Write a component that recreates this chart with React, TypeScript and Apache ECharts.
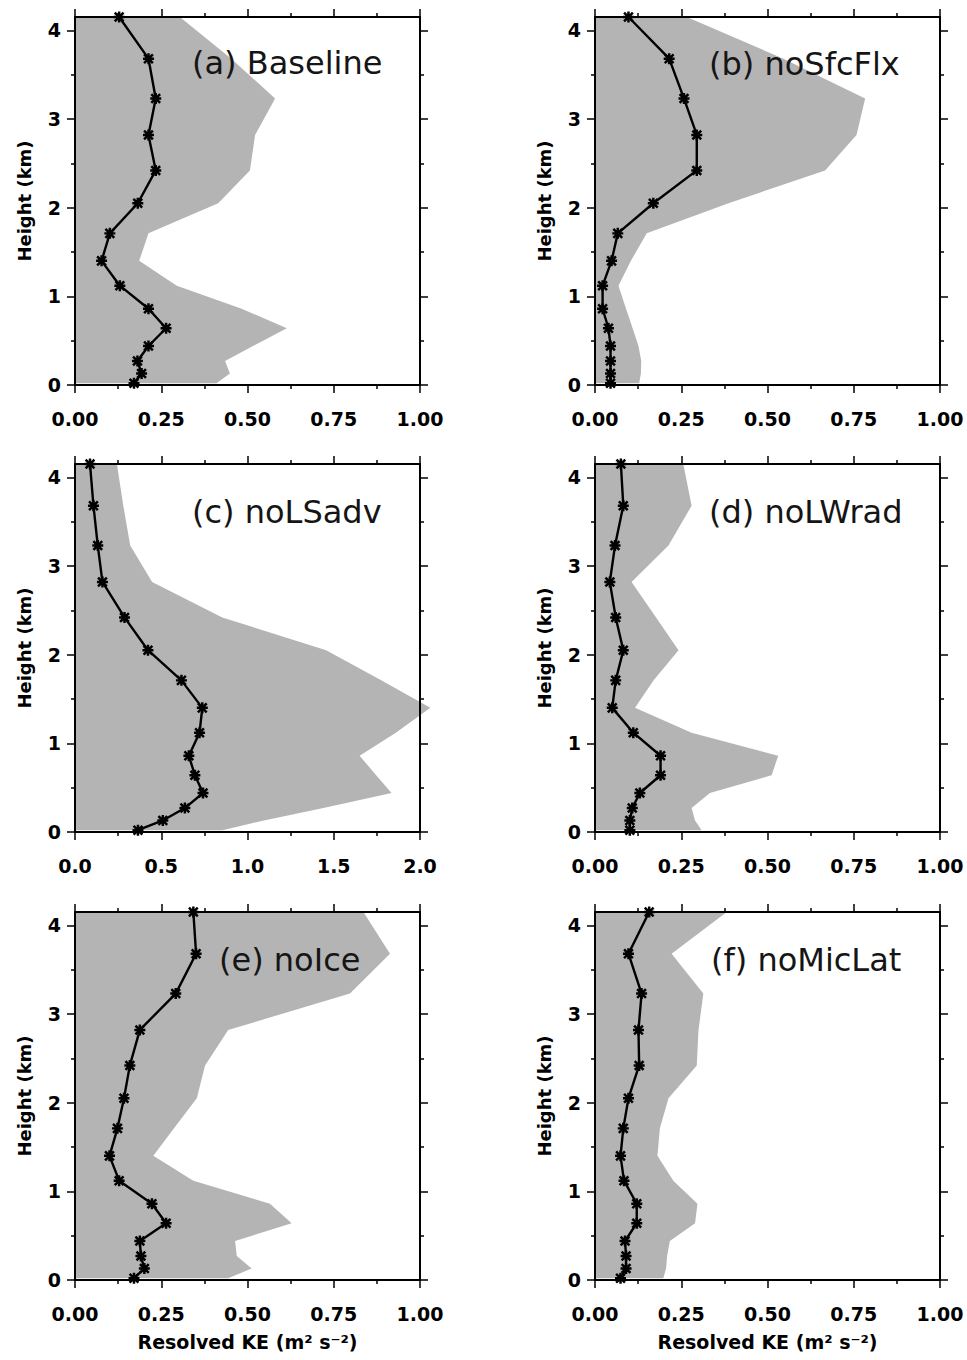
import React, { useEffect, useRef } from "react";
import * as echarts from "echarts";

// ---- data ----
const heights = [0.02, 0.13, 0.27, 0.44, 0.64, 0.86, 1.12, 1.4, 1.71, 2.05, 2.42, 2.82, 3.23, 3.68, 4.15];

const keBaseline = [0.171, 0.193, 0.181, 0.213, 0.264, 0.213, 0.13, 0.077, 0.101, 0.182, 0.234, 0.213, 0.234, 0.213, 0.128];
const maxBaseline = [0.41, 0.449, 0.435, 0.516, 0.614, 0.483, 0.295, 0.186, 0.213, 0.415, 0.507, 0.522, 0.58, 0.453, 0.304];

const keNoSfcFlx = [0.045, 0.045, 0.045, 0.045, 0.039, 0.022, 0.022, 0.048, 0.066, 0.169, 0.295, 0.295, 0.258, 0.215, 0.097];
const maxNoSfcFlx = [0.128, 0.133, 0.134, 0.126, 0.109, 0.09, 0.068, 0.104, 0.15, 0.387, 0.667, 0.758, 0.783, 0.546, 0.266];

const keNoLSadv = [0.365, 0.509, 0.637, 0.742, 0.695, 0.66, 0.722, 0.738, 0.617, 0.423, 0.287, 0.159, 0.132, 0.107, 0.087];
const maxNoLSadv = [0.855, 1.095, 1.44, 1.835, 1.746, 1.65, 1.86, 2.06, 1.775, 1.456, 0.854, 0.447, 0.32, 0.28, 0.243];

const keNoLWrad = [0.101, 0.101, 0.108, 0.13, 0.19, 0.19, 0.111, 0.05, 0.06, 0.082, 0.06, 0.043, 0.058, 0.082, 0.075];
const maxNoLWrad = [0.309, 0.29, 0.28, 0.333, 0.512, 0.531, 0.28, 0.116, 0.17, 0.242, 0.177, 0.106, 0.213, 0.28, 0.256];

const keNoIce = [0.171, 0.201, 0.191, 0.188, 0.264, 0.223, 0.128, 0.1, 0.123, 0.142, 0.159, 0.188, 0.292, 0.351, 0.343];
const maxNoIce = [0.444, 0.512, 0.469, 0.464, 0.628, 0.565, 0.343, 0.227, 0.287, 0.353, 0.377, 0.444, 0.797, 0.913, 0.836];

const keNoMicLat = [0.074, 0.09, 0.09, 0.087, 0.121, 0.121, 0.084, 0.074, 0.082, 0.097, 0.128, 0.126, 0.135, 0.097, 0.157];
const maxNoMicLat = [0.198, 0.206, 0.209, 0.217, 0.29, 0.297, 0.227, 0.181, 0.188, 0.213, 0.295, 0.3, 0.314, 0.222, 0.382];

const panelTitles = ["(a) Baseline", "(b) noSfcFlx", "(c) noLSadv", "(d) noLWrad", "(e) noIce", "(f) noMicLat"];

const xTicksStd = [0, 0.25, 0.5, 0.75, 1.0];
const xTickLabelsStd = ["0.00", "0.25", "0.50", "0.75", "1.00"];
const xMinorStd = [0.125, 0.375, 0.625, 0.875];
const xTicksWide = [0, 0.5, 1.0, 1.5, 2.0];
const xTickLabelsWide = ["0.0", "0.5", "1.0", "1.5", "2.0"];
const xMinorWide = [0.25, 0.75, 1.25, 1.75];
const yTicks = [0, 1, 2, 3, 4];
const yTickLabels = ["0", "1", "2", "3", "4"];
const yMinor = [0.5, 1.5, 2.5, 3.5];
const yMax = 4.15;

const xAxisName = "Resolved KE (m² s⁻²)";
const yAxisName = "Height (km)";

// ---- layout / style ----
const panels = [
  { title: panelTitles[0], ke: keBaseline, mx: maxBaseline, wide: false },
  { title: panelTitles[1], ke: keNoSfcFlx, mx: maxNoSfcFlx, wide: false },
  { title: panelTitles[2], ke: keNoLSadv, mx: maxNoLSadv, wide: true },
  { title: panelTitles[3], ke: keNoLWrad, mx: maxNoLWrad, wide: false },
  { title: panelTitles[4], ke: keNoIce, mx: maxNoIce, wide: false },
  { title: panelTitles[5], ke: keNoMicLat, mx: maxNoMicLat, wide: false },
];
const colLeft = [75, 595];
const rowTop = [17, 464, 912];
const gridW = 345;
const gridH = 368;
const titlePos = [
  [192, 63],
  [709, 64],
  [192, 512],
  [709, 512],
  [219, 960],
  [711, 960],
];

const asterisk =
  "path://M0 7.75H20V12.25H0Z M7.75 0H12.25V20H7.75Z M3.6 0.4L19.6 16.4L16.4 19.6L0.4 3.6Z M19.6 3.6L3.6 19.6L0.4 16.4L16.4 0.4Z";

const FONT = "DejaVu Sans";
const BLACK = "#000";
const SHADE = "#b4b4b4";

function buildOption() {
  const grid: any[] = [];
  const xAxis: any[] = [];
  const yAxis: any[] = [];
  const series: any[] = [];
  const graphic: any[] = [];

  panels.forEach((p, g) => {
    const col = g % 2;
    const row = Math.floor(g / 2);
    grid.push({ left: colLeft[col], top: rowTop[row], width: gridW, height: gridH, show: false });

    const xMaj = p.wide ? xTicksWide : xTicksStd;
    const xLab = p.wide ? xTickLabelsWide : xTickLabelsStd;
    const xMin = p.wide ? xMinorWide : xMinorStd;
    const xmax = xMaj[xMaj.length - 1];

    const xc = { type: "value", gridIndex: g, min: 0, max: xmax, splitLine: { show: false }, z: 3, silent: true };
    const baseX = xAxis.length;
    const tickStyle = { color: BLACK, width: 1.5 };
    xAxis.push({
      ...xc,
      position: "bottom",
      axisLine: { show: true, onZero: false, lineStyle: { color: BLACK, width: 2 } },
      axisTick: { show: true, inside: false, customValues: xMaj, length: 8, lineStyle: tickStyle },
      axisLabel: {
        show: true,
        customValues: xMaj,
        margin: 24,
        fontFamily: FONT,
        fontWeight: "bold",
        fontSize: 19,
        color: BLACK,
        formatter: (v: number) => {
          const i = xMaj.findIndex((t) => Math.abs(t - v) < 1e-9);
          return i >= 0 ? xLab[i] : "";
        },
      },
      name: row === 2 ? xAxisName : "",
      nameLocation: "middle",
      nameGap: 52,
      nameTextStyle: { fontFamily: FONT, fontWeight: "bold", fontSize: 19, color: BLACK },
    });
    xAxis.push({
      ...xc,
      position: "bottom",
      axisLine: { show: false, onZero: false },
      axisTick: { show: true, inside: false, customValues: xMin, length: 4, lineStyle: tickStyle },
      axisLabel: { show: false },
    });
    xAxis.push({
      ...xc,
      position: "top",
      axisLine: { show: true, onZero: false, lineStyle: { color: BLACK, width: 2 } },
      axisTick: { show: true, inside: false, customValues: xMaj, length: 8, lineStyle: tickStyle },
      axisLabel: { show: false },
    });
    xAxis.push({
      ...xc,
      position: "top",
      axisLine: { show: false, onZero: false },
      axisTick: { show: true, inside: false, customValues: xMin, length: 4, lineStyle: tickStyle },
      axisLabel: { show: false },
    });

    const yc = { type: "value", gridIndex: g, min: 0, max: yMax, splitLine: { show: false }, z: 3, silent: true };
    const baseY = yAxis.length;
    yAxis.push({
      ...yc,
      position: "left",
      axisLine: { show: true, onZero: false, lineStyle: { color: BLACK, width: 2 } },
      axisTick: { show: true, inside: false, customValues: yTicks, length: 8, lineStyle: tickStyle },
      axisLabel: {
        show: true,
        customValues: yTicks,
        margin: 14,
        fontFamily: FONT,
        fontWeight: "bold",
        fontSize: 19,
        color: BLACK,
        formatter: (v: number) => {
          const i = yTicks.findIndex((t) => Math.abs(t - v) < 1e-9);
          return i >= 0 ? yTickLabels[i] : "";
        },
      },
      name: yAxisName,
      nameLocation: "middle",
      nameGap: 42,
      nameRotate: 90,
      nameTextStyle: { fontFamily: FONT, fontWeight: "bold", fontSize: 18, color: BLACK },
    });
    yAxis.push({
      ...yc,
      position: "left",
      axisLine: { show: false, onZero: false },
      axisTick: { show: true, inside: false, customValues: yMinor, length: 4, lineStyle: tickStyle },
      axisLabel: { show: false },
    });
    yAxis.push({
      ...yc,
      position: "right",
      axisLine: { show: true, onZero: false, lineStyle: { color: BLACK, width: 2 } },
      axisTick: { show: true, inside: false, customValues: yTicks, length: 8, lineStyle: tickStyle },
      axisLabel: { show: false },
    });
    yAxis.push({
      ...yc,
      position: "right",
      axisLine: { show: false, onZero: false },
      axisTick: { show: true, inside: false, customValues: yMinor, length: 4, lineStyle: tickStyle },
      axisLabel: { show: false },
    });

    const mxVals = p.mx;
    series.push({
      type: "custom",
      xAxisIndex: baseX,
      yAxisIndex: baseY,
      data: [[0, 0]],
      clip: false,
      silent: true,
      z: 1,
      renderItem: (_params: any, api: any) => {
        const pts: number[][] = [api.coord([0, heights[0]])];
        for (let i = 0; i < heights.length; i++) pts.push(api.coord([mxVals[i], heights[i]]));
        pts.push(api.coord([0, heights[heights.length - 1]]));
        return { type: "polygon", shape: { points: pts }, style: { fill: SHADE } };
      },
    });
    series.push({
      type: "line",
      xAxisIndex: baseX,
      yAxisIndex: baseY,
      data: heights.map((h, i) => [p.ke[i], h]),
      symbol: asterisk,
      symbolSize: 11,
      lineStyle: { color: BLACK, width: 2.4 },
      itemStyle: { color: BLACK },
      clip: false,
      silent: true,
      z: 4,
    });

    graphic.push({
      type: "text",
      x: titlePos[g][0],
      y: titlePos[g][1],
      z: 10,
      style: {
        text: p.title,
        font: `32px "${FONT}"`,
        fill: "#151515",
        align: "left",
        verticalAlign: "middle",
      },
    });
  });

  return { animation: false, backgroundColor: "#fff", grid, xAxis, yAxis, series, graphic };
}

export default function App() {
  const ref = useRef<HTMLDivElement>(null);
  useEffect(() => {
    if (!ref.current) return;
    const chart = echarts.init(ref.current, undefined, { renderer: "svg" });
    chart.setOption(buildOption() as any);
    return () => chart.dispose();
  }, []);
  return (
    <div
      ref={ref}
      style={{ position: "absolute", left: 0, top: 0, width: 967, height: 1360, background: "#fff" }}
    />
  );
}
